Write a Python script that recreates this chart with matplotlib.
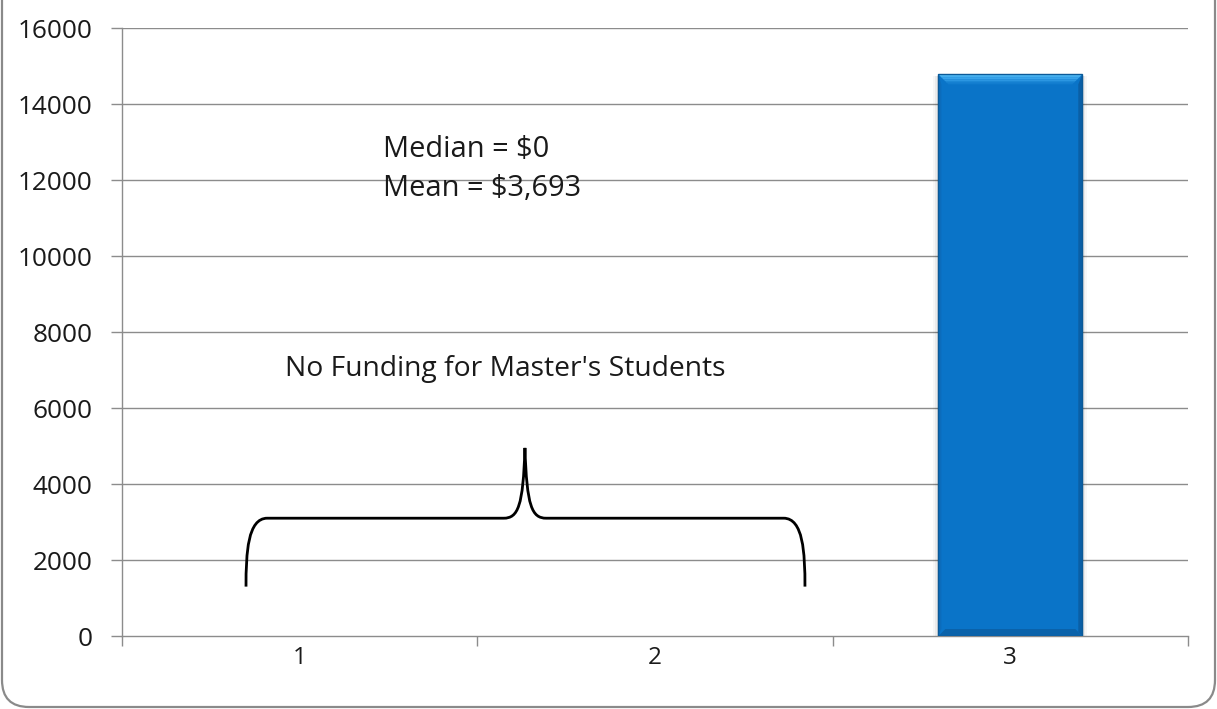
import matplotlib
matplotlib.use("Agg")
import matplotlib.pyplot as plt
from matplotlib.patches import FancyBboxPatch, Polygon, PathPatch
from matplotlib.path import Path
import numpy as np

# Chart data
categories = ["1", "2", "3"]
funding = [0, 0, 14780]
y_ticks = [0, 2000, 4000, 6000, 8000, 10000, 12000, 14000, 16000]

median_label = "Median = $0"
mean_label = "Mean = $3,693"
note_label = "No Funding for Master's Students"

plt.rcParams["font.family"] = ["Open Sans", "DejaVu Sans"]

W, H, DPI = 1217, 709, 100
fig = plt.figure(figsize=(W / DPI, H / DPI), dpi=DPI)
fig.patch.set_facecolor("white")

# Rounded outer frame (top edge runs past the canvas)
frame = FancyBboxPatch((2 / DPI, 2 / DPI), (W - 4) / DPI, (H + 40) / DPI,
                       boxstyle="round,pad=0,rounding_size=0.27",
                       transform=fig.dpi_scale_trans, facecolor="none",
                       edgecolor="#8a8a8a", linewidth=1.6, zorder=0)
fig.patches.append(frame)

ax = fig.add_axes([122 / W, 1 - 636 / H, (1188 - 122) / W, (636 - 28) / H])
ax.set_facecolor("none")

x = np.arange(1, len(categories) + 1)
grid_col = "#8c8c8c"
text_col = "#1a1a1a"

ax.set_xlim(0.5, len(categories) + 0.5)
ax.set_ylim(0, 16000)
ax.set_yticks(y_ticks)
ax.set_yticklabels([str(v) for v in y_ticks])
for v in y_ticks[1:]:
    ax.axhline(v, color=grid_col, linewidth=1.0, zorder=1)

# Category labels centred, tick marks on the category boundaries
ax.set_xticks(np.arange(0.5, len(categories) + 1.0, 1.0))
ax.set_xticklabels([])
ax.set_xticks(x, minor=True)
ax.set_xticklabels(categories, minor=True)
ax.tick_params(axis="x", which="major", direction="out", length=7.5,
               width=1.0, color=grid_col)
ax.tick_params(axis="x", which="minor", length=0, pad=7, labelsize=17.5,
               labelcolor=text_col)
ax.tick_params(axis="y", direction="out", length=8, width=1.0,
               color=grid_col, pad=13.5, labelsize=18.8, labelcolor=text_col)

for s in ["top", "right"]:
    ax.spines[s].set_visible(False)
for s in ["left", "bottom"]:
    ax.spines[s].set_color(grid_col)
    ax.spines[s].set_linewidth(1.0)

# Bars with a bevelled look
bar_w = 0.405
bars = ax.bar(x, funding, width=bar_w, color="#0a74c8", linewidth=0,
              zorder=3)

fig.canvas.draw()
to_disp = ax.transData
from_disp = ax.transData.inverted()
for b, v in zip(bars, funding):
    if v <= 0:
        continue
    x0, y0 = b.get_x(), b.get_y()
    x1, y1 = x0 + b.get_width(), y0 + b.get_height()
    (px0, py0), (px1, py1) = to_disp.transform([(x0, y0), (x1, y1)])
    bev = 10
    # soft shadow
    for k, a in [(5, 0.05), (3, 0.08), (1.5, 0.12)]:
        sh = from_disp.transform([(px0 - k, py0 - k), (px1 + k, py0 - k),
                                  (px1 + k, py1 - 2), (px0 - k, py1 - 2)])
        ax.add_patch(Polygon(sh, closed=True, facecolor="black", alpha=a * 0.6,
                             edgecolor="none", zorder=2))
    # top bevel, light fading into the face colour
    shades = ["#52bcf6", "#45b0f1", "#38a3ea", "#2b96e1", "#1d89d7", "#127dcf"]
    n = len(shades)
    for i, c in enumerate(shades):
        d0, d1 = bev * i / n, bev * (i + 1) / n
        strip = from_disp.transform([(px0 + d0, py1 - d0), (px1 - d0, py1 - d0),
                                     (px1 - d1, py1 - d1), (px0 + d1, py1 - d1)])
        ax.add_patch(Polygon(strip, closed=True, facecolor=c,
                             edgecolor="none", zorder=4))
    right = from_disp.transform([(px1, py1), (px1, py0),
                                 (px1 - 4, py0 + 4), (px1 - 4, py1 - bev)])
    ax.add_patch(Polygon(right, closed=True, facecolor="#0a5fa6",
                         edgecolor="none", zorder=4))
    bottom = from_disp.transform([(px0, py0), (px1, py0),
                                  (px1 - 7, py0 + 7), (px0 + 7, py0 + 7)])
    ax.add_patch(Polygon(bottom, closed=True, facecolor="#0a62aa",
                         edgecolor="none", zorder=4))
    left = from_disp.transform([(px0, py0), (px0, py1),
                                (px0 + 3, py1 - bev), (px0 + 3, py0 + 7)])
    ax.add_patch(Polygon(left, closed=True, facecolor="#0c6cbb",
                         edgecolor="none", zorder=4))
    ax.add_patch(Polygon(from_disp.transform([(px0, py0), (px1, py0),
                                              (px1, py1), (px0, py1)]),
                         closed=True, facecolor="none", edgecolor="#0b5a98",
                         linewidth=1.0, zorder=5))

# Curly brace spanning the first two categories
bx0, bx1, bmid = 0.849, 2.422, 1.634
by0, by1, btip = 1300, 3100, 4950
cx = 0.06
verts = [
    (bx0, by0),
    (bx0, by1 - 900), (bx0 + 0.005, by1), (bx0 + cx, by1),
    (bmid - cx, by1),
    (bmid - 0.02, by1), (bmid - 0.005, by1 + 300), (bmid, btip),
    (bmid + 0.005, by1 + 300), (bmid + 0.02, by1), (bmid + cx, by1),
    (bx1 - cx, by1),
    (bx1 - 0.005, by1), (bx1, by1 - 900), (bx1, by0),
]
codes = [Path.MOVETO,
         Path.CURVE4, Path.CURVE4, Path.CURVE4,
         Path.LINETO,
         Path.CURVE4, Path.CURVE4, Path.CURVE4,
         Path.CURVE4, Path.CURVE4, Path.CURVE4,
         Path.LINETO,
         Path.CURVE4, Path.CURVE4, Path.CURVE4]
ax.add_patch(PathPatch(Path(verts, codes), facecolor="none",
                       edgecolor="black", linewidth=2.0, zorder=6))

# Annotations
ax.text(1.2345, 12600, median_label, fontsize=20.9,
        color=text_col, ha="left", va="baseline", zorder=7)
ax.text(1.2345, 11580, mean_label, fontsize=20.9,
        color=text_col, ha="left", va="baseline", zorder=7)
ax.text(0.959, 6840, note_label, fontsize=20.3,
        color=text_col, ha="left", va="baseline", zorder=7)

fig.savefig("out.png", dpi=DPI, facecolor="white")
